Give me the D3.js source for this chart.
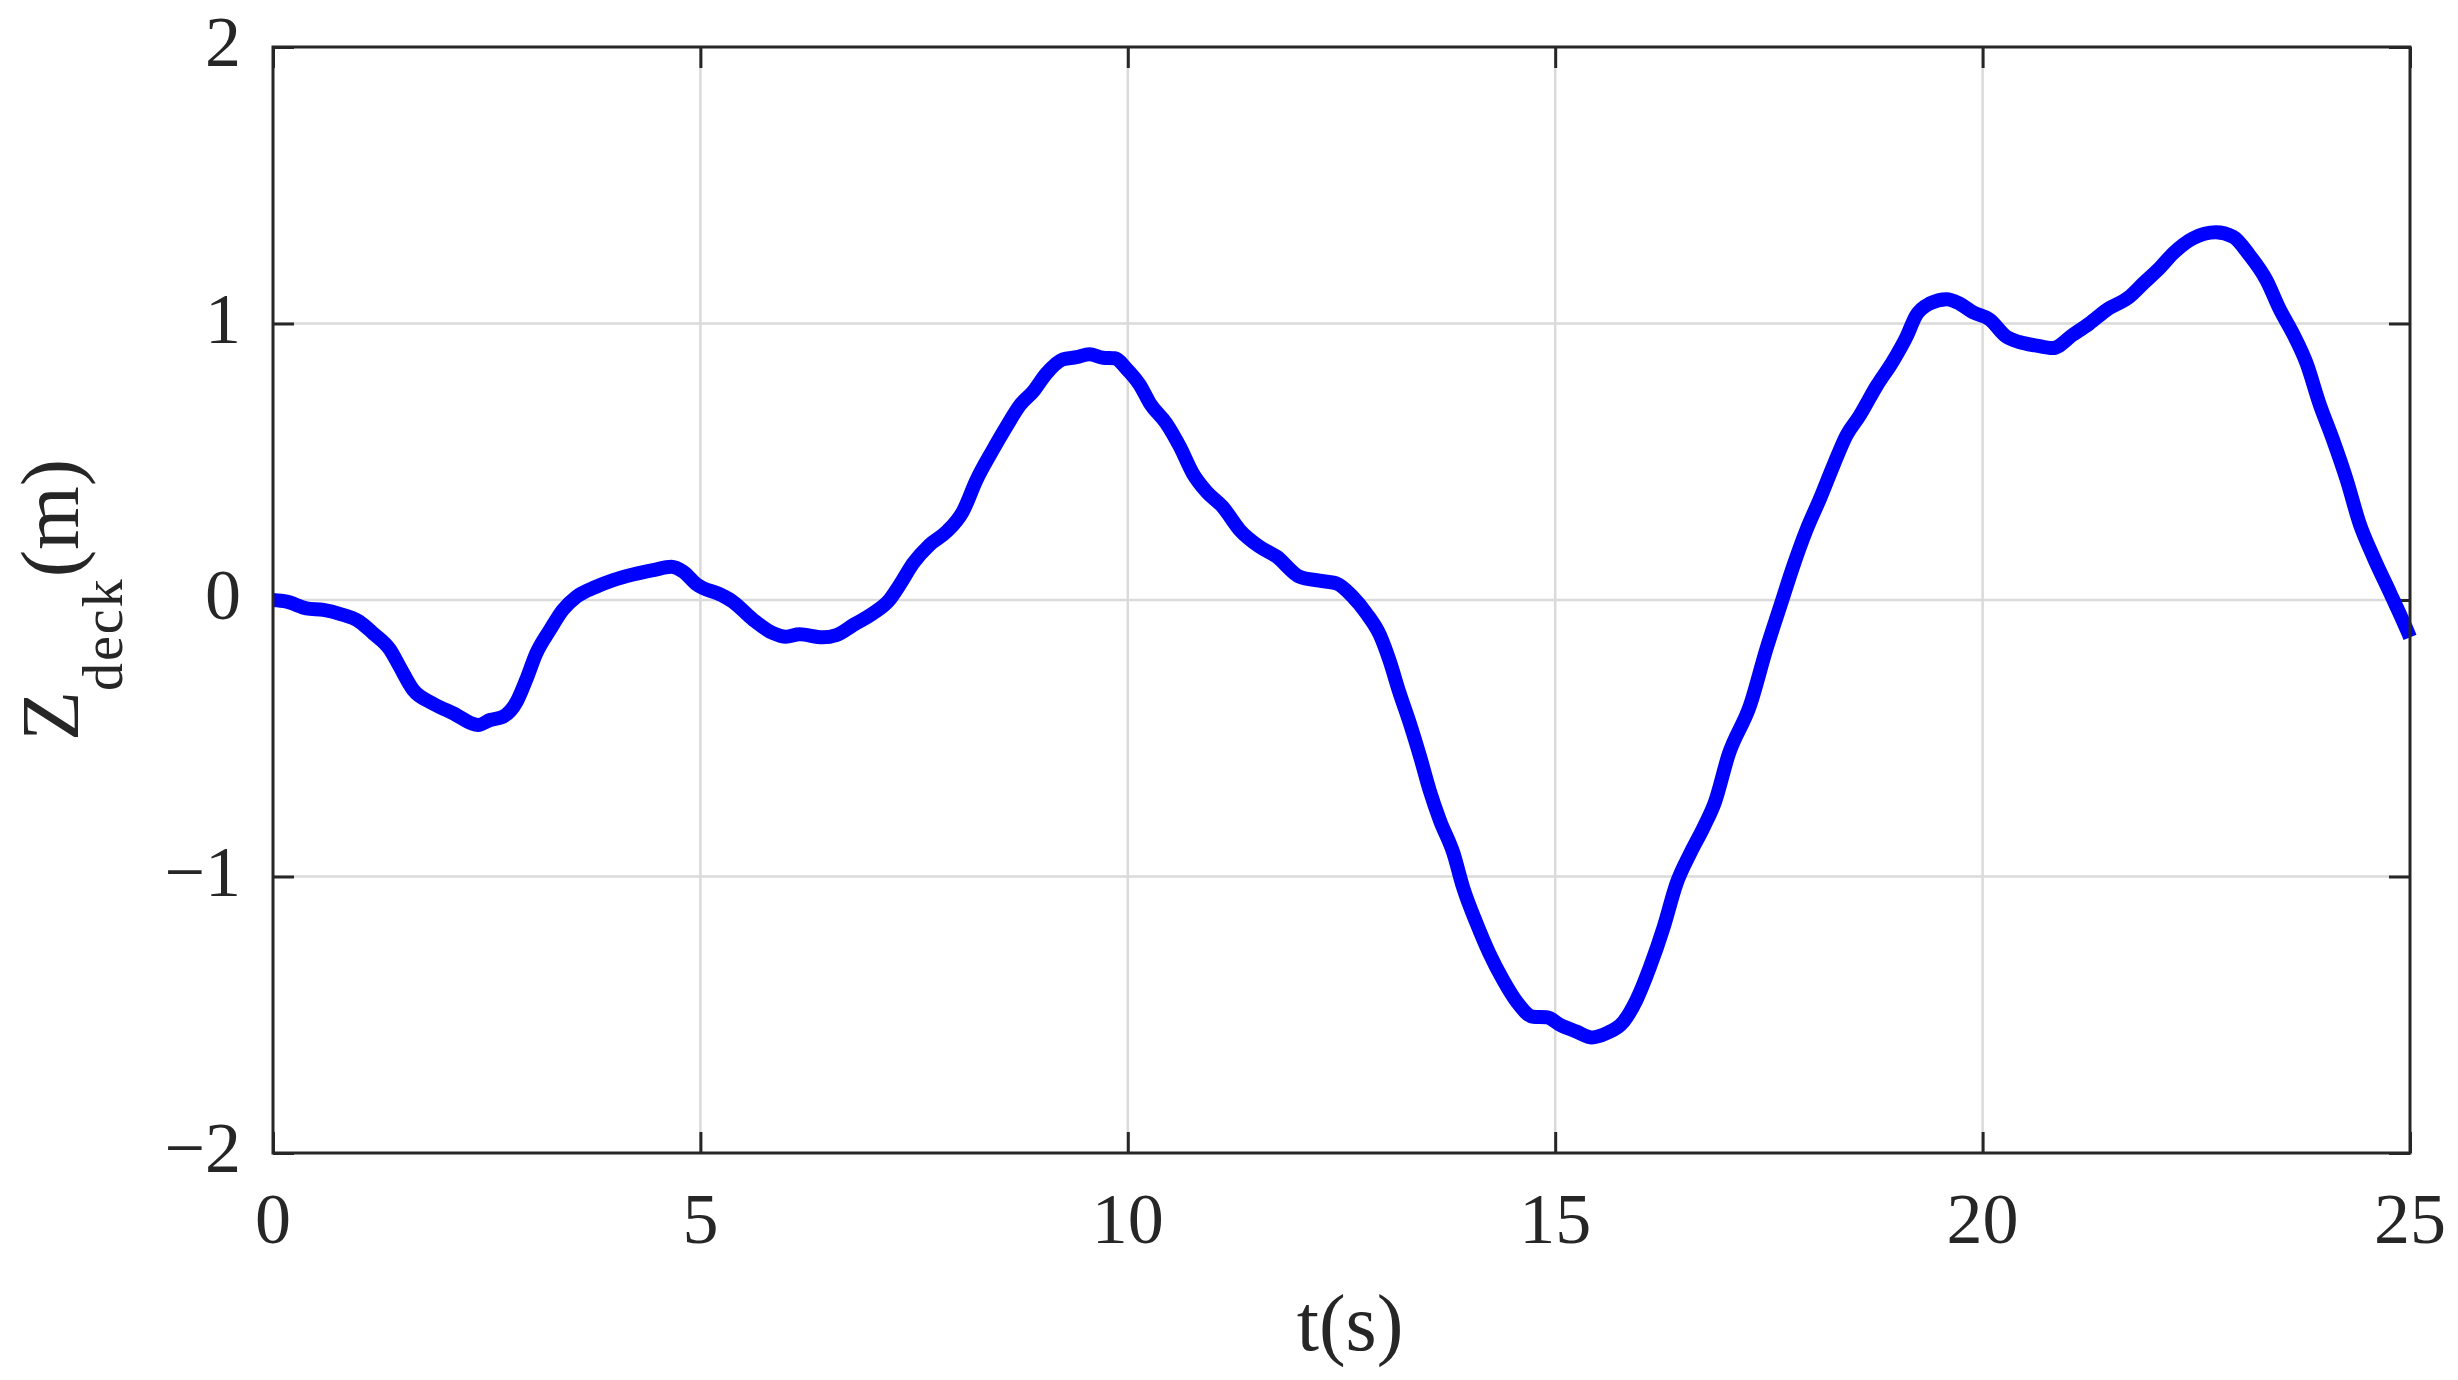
<!DOCTYPE html>
<html>
<head>
<meta charset="utf-8">
<script src="https://cdn.jsdelivr.net/npm/d3@7"></script>
<style>
  html, body { margin: 0; padding: 0; background: #ffffff; }
  svg { display: block; }
  text { font-family: "Liberation Serif", "DejaVu Serif", serif; fill: #262626; }
</style>
</head>
<body>
<svg id="chart" width="2458" height="1380"></svg>
<script>
// ---- data ----
const tValues = [
  0, 0.16, 0.39, 0.59, 0.78, 1.01, 1.17, 1.37, 1.48, 1.64,
  1.87, 2.11, 2.40, 2.54, 2.69, 2.85, 2.96, 3.08, 3.24, 3.39,
  3.55, 3.78, 3.98, 4.21, 4.45, 4.66, 4.80, 4.95, 5.26, 5.38,
  5.62, 5.85, 6.00, 6.16, 6.43, 6.59, 6.79, 7.02, 7.21, 7.33,
  7.49, 7.68, 7.88, 8.07, 8.23, 8.42, 8.58, 8.74, 8.89, 9.05,
  9.24, 9.40, 9.55, 9.71, 9.85, 9.98, 10.14, 10.26, 10.45, 10.61,
  10.76, 10.92, 11.11, 11.31, 11.54, 11.74, 12.01, 12.24, 12.44, 12.63,
  12.79, 12.95, 13.06, 13.18, 13.30, 13.42, 13.53, 13.65, 13.81, 13.92,
  14.08, 14.23, 14.39, 14.55, 14.74, 14.90, 15.06, 15.25, 15.43, 15.60,
  15.80, 15.95, 16.11, 16.27, 16.42, 16.58, 16.74, 16.87, 17.03, 17.28,
  17.47, 17.63, 17.79, 17.94, 18.10, 18.25, 18.41, 18.56, 18.76, 18.95,
  19.11, 19.22, 19.38, 19.58, 19.73, 19.89, 20.08, 20.28, 20.43, 20.63,
  20.82, 21.06, 21.25, 21.45, 21.72, 21.88, 22.07, 22.23, 22.46, 22.73,
  22.93, 23.12, 23.32, 23.48, 23.63, 23.79, 23.94, 24.10, 24.26, 24.41,
  24.57, 24.77, 24.98, 25.0
];
const zDeck = [
  0.00, -0.006, -0.03, -0.036, -0.05, -0.078, -0.12, -0.18, -0.24, -0.325,
  -0.374, -0.41, -0.452, -0.434, -0.422, -0.368, -0.29, -0.193, -0.108, -0.036,
  0.012, 0.048, 0.072, 0.092, 0.108, 0.12, 0.102, 0.058, 0.016, -0.006,
  -0.072, -0.12, -0.133, -0.124, -0.135, -0.127, -0.09, -0.048, 0.0, 0.054,
  0.133, 0.199, 0.247, 0.32, 0.434, 0.542, 0.627, 0.705, 0.753, 0.82,
  0.87, 0.878, 0.889, 0.876, 0.874, 0.838, 0.778, 0.711, 0.639, 0.554,
  0.458, 0.392, 0.337, 0.253, 0.193, 0.157, 0.084, 0.07, 0.06, 0.012,
  -0.048, -0.127, -0.217, -0.337, -0.446, -0.567, -0.687, -0.796, -0.916, -1.037,
  -1.169, -1.278, -1.374, -1.453, -1.507, -1.509, -1.537, -1.561, -1.582, -1.567,
  -1.525, -1.447, -1.326, -1.182, -1.025, -0.916, -0.82, -0.73, -0.558, -0.381,
  -0.178, -0.025, 0.127, 0.254, 0.368, 0.483, 0.597, 0.666, 0.774, 0.863,
  0.952, 1.028, 1.072, 1.088, 1.072, 1.04, 1.015, 0.952, 0.933, 0.92,
  0.911, 0.96, 1.0, 1.049, 1.097, 1.145, 1.2, 1.254, 1.308, 1.33,
  1.314, 1.248, 1.157, 1.049, 0.964, 0.856, 0.711, 0.579, 0.434, 0.277,
  0.157, 0.024, -0.12, -0.135
];
const xTicks = [0, 5, 10, 15, 20, 25];
const yTicks = [-2, -1, 0, 1, 2];
const xDomain = [0, 25];
const yDomain = [-2, 2];
const xLabel = "t(s)";
const yLabelMain = "Z";
const yLabelSub = "deck";
const yLabelUnit = "(m)";

// ---- layout ----
const svg = d3.select("#chart");
const L = 273, R = 2410, T = 47, B = 1153;
const axisColor = "#262626";
const gridColor = "#dadada";
const tickLen = 21;

const x = d3.scaleLinear().domain(xDomain).range([L, R]);
const y = d3.scaleLinear().domain(yDomain).range([B, T]);

// grid
const grid = svg.append("g");
grid.selectAll("line.gx").data(xTicks.slice(1, -1)).join("line")
  .attr("x1", d => x(d)).attr("x2", d => x(d))
  .attr("y1", T).attr("y2", B)
  .attr("stroke", gridColor).attr("stroke-width", 2.5);
grid.selectAll("line.gy").data(yTicks.slice(1, -1)).join("line")
  .attr("x1", L).attr("x2", R)
  .attr("y1", d => y(d)).attr("y2", d => y(d))
  .attr("stroke", gridColor).attr("stroke-width", 2.5);

// axes via d3 axis generators (inward ticks)
const fmt = d => (d < 0 ? "\u2212" + Math.abs(d) : String(d));
function styleAxis(g) {
  g.select(".domain").remove();
  g.selectAll(".tick line").attr("stroke", axisColor).attr("stroke-width", 3);
}
svg.append("g").attr("transform", `translate(0,${B})`)
  .call(d3.axisBottom(x).tickValues(xTicks).tickSize(-tickLen).tickFormat(""))
  .call(styleAxis);
svg.append("g").attr("transform", `translate(0,${T})`)
  .call(d3.axisTop(x).tickValues(xTicks).tickSize(-tickLen).tickFormat(""))
  .call(styleAxis);
svg.append("g").attr("transform", `translate(${L},0)`)
  .call(d3.axisLeft(y).tickValues(yTicks).tickSize(-tickLen).tickFormat(""))
  .call(styleAxis);
svg.append("g").attr("transform", `translate(${R},0)`)
  .call(d3.axisRight(y).tickValues(yTicks).tickSize(-tickLen).tickFormat(""))
  .call(styleAxis);

// data line
const pts = tValues.map((t, i) => [t, zDeck[i]]);
const line = d3.line().x(d => x(d[0])).y(d => y(d[1])).curve(d3.curveMonotoneX);
svg.append("path")
  .datum(pts)
  .attr("d", line)
  .attr("fill", "none")
  .attr("stroke", "#0000ff")
  .attr("stroke-width", 14)
  .attr("stroke-linejoin", "round")
  .attr("stroke-linecap", "butt");

// box
svg.append("rect")
  .attr("x", L).attr("y", T).attr("width", R - L).attr("height", B - T)
  .attr("fill", "none").attr("stroke", axisColor).attr("stroke-width", 3);

// tick labels
svg.append("g").selectAll("text").data(xTicks).join("text")
  .attr("x", d => x(d)).attr("y", 1243)
  .attr("text-anchor", "middle")
  .attr("font-size", 72)
  .text(fmt);
svg.append("g").selectAll("text").data(yTicks).join("text")
  .attr("x", 241).attr("y", d => y(d) + 19)
  .attr("text-anchor", "end")
  .attr("font-size", 72)
  .text(fmt);

// axis labels
svg.append("text")
  .attr("x", 1350).attr("y", 1350)
  .attr("text-anchor", "middle")
  .attr("font-size", 80)
  .text(xLabel);

const yl = svg.append("text")
  .attr("transform", "translate(78,600) rotate(-90)")
  .attr("text-anchor", "middle")
  .attr("font-size", 82);
yl.append("tspan").text(yLabelMain);
yl.append("tspan").attr("font-size", 56).attr("dy", 44).attr("letter-spacing", 2).text(yLabelSub);
yl.append("tspan").attr("dy", -44).text(yLabelUnit);
</script>
</body>
</html>
